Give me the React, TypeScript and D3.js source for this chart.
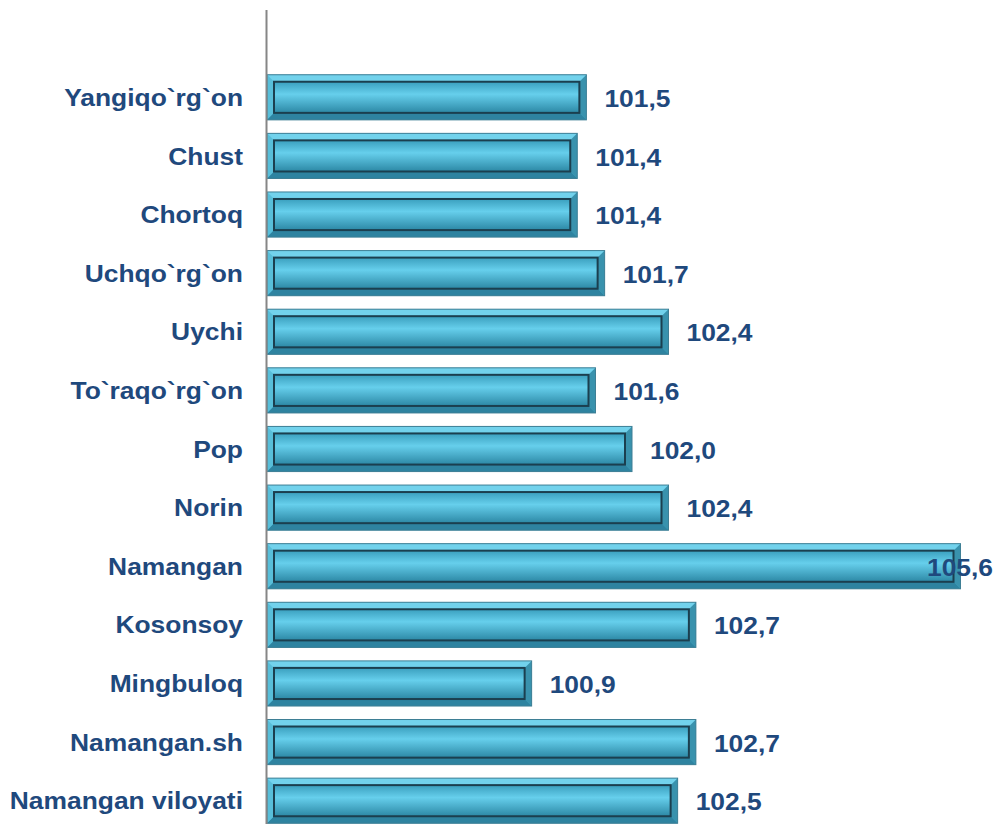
import React, { useRef, useEffect } from "react";
import * as d3 from "d3";

const categories = [
  "Yangiqo`rg`on",
  "Chust",
  "Chortoq",
  "Uchqo`rg`on",
  "Uychi",
  "To`raqo`rg`on",
  "Pop",
  "Norin",
  "Namangan",
  "Kosonsoy",
  "Mingbuloq",
  "Namangan.sh",
  "Namangan viloyati",
];
const values = [101.5, 101.4, 101.4, 101.7, 102.4, 101.6, 102.0, 102.4, 105.6, 102.7, 100.9, 102.7, 102.5];

const BarChart = () => {
  const svgRef = useRef<SVGSVGElement | null>(null);

  useEffect(() => {
    const width = 999;
    const height = 824;
    const font = "'Liberation Sans', Arial, sans-serif";
    const navy = "#1f497d";
    const stretch = 1.1; // reference text is a bit wider than plain Arial

    const svg = d3.select(svgRef.current);
    svg.selectAll("*").remove();

    const x = d3.scaleLinear().domain([98, 106]).range([267, 997]);
    const y = d3.scaleBand().domain(categories).range([68, 830]).paddingInner(0.23).paddingOuter(0.115);

    const defs = svg.append("defs");
    const outer = defs.append("linearGradient").attr("id", "outerG").attr("x1", 0).attr("y1", 0).attr("x2", 0).attr("y2", 1);
    outer.append("stop").attr("offset", "0%").attr("stop-color", "#6fd0ea");
    outer.append("stop").attr("offset", "100%").attr("stop-color", "#3a9fbd");
    const inner = defs.append("linearGradient").attr("id", "innerG").attr("x1", 0).attr("y1", 0).attr("x2", 0).attr("y2", 1);
    inner.append("stop").attr("offset", "0%").attr("stop-color", "#3a9fbe");
    inner.append("stop").attr("offset", "40%").attr("stop-color", "#66cfec");
    inner.append("stop").attr("offset", "100%").attr("stop-color", "#2c88a5");

    const bev = 7;
    const g = svg.selectAll("g.bar").data(values).enter().append("g").attr("class", "bar");

    g.each(function (d, i) {
      const sel = d3.select(this);
      const x0 = x(98);
      const x1 = x(d);
      const y0 = y(categories[i])!;
      const y1 = y0 + y.bandwidth();
      const pts = (arr: number[][]) => arr.map((p) => p.join(",")).join(" ");
      // outer
      sel.append("rect").attr("x", x0).attr("y", y0).attr("width", x1 - x0).attr("height", y1 - y0)
        .attr("fill", "url(#outerG)");
      // bevels
      sel.append("polygon").attr("points", pts([[x0, y0], [x1, y0], [x1 - bev, y0 + bev], [x0 + bev, y0 + bev]])).attr("fill", "#72d2ec");
      sel.append("polygon").attr("points", pts([[x0, y1], [x1, y1], [x1 - bev, y1 - bev], [x0 + bev, y1 - bev]])).attr("fill", "#2e83a0");
      sel.append("polygon").attr("points", pts([[x0, y0], [x0 + bev, y0 + bev], [x0 + bev, y1 - bev], [x0, y1]])).attr("fill", "#58bed9");
      sel.append("polygon").attr("points", pts([[x1, y0], [x1 - bev, y0 + bev], [x1 - bev, y1 - bev], [x1, y1]])).attr("fill", "#3992ad");
      sel.append("rect").attr("x", x0).attr("y", y0).attr("width", x1 - x0).attr("height", y1 - y0)
        .attr("fill", "none").attr("stroke", "#3e7f95").attr("stroke-width", 1);
      // inner
      sel.append("rect").attr("x", x0 + bev).attr("y", y0 + bev).attr("width", x1 - x0 - 2 * bev).attr("height", y1 - y0 - 2 * bev)
        .attr("fill", "url(#innerG)").attr("stroke", "#1b3f4f").attr("stroke-width", 2);
    });

    // axis line
    svg.append("line").attr("x1", 266.5).attr("x2", 266.5).attr("y1", 10).attr("y2", height)
      .attr("stroke", "#868686").attr("stroke-width", 2);

    // category labels
    svg.selectAll("text.cat").data(categories).enter().append("text").attr("class", "cat")
      .attr("transform", (d) => `translate(243,${y(d)! + y.bandwidth() / 2}) scale(${stretch},1)`)
      .attr("dy", "0.36em").attr("text-anchor", "end")
      .attr("font-family", font).attr("font-weight", "bold").attr("font-size", 24)
      .attr("fill", navy).text((d) => d);

    // value labels
    const fmt = (v: number) => v.toFixed(1).replace(".", ",");
    svg.selectAll("text.val").data(values).enter().append("text").attr("class", "val")
      .attr("transform", (d, i) =>
        `translate(${Math.min(x(d) + 18, 993 - 66)},${y(categories[i])! + y.bandwidth() / 2 + 1}) scale(${stretch},1)`)
      .attr("dy", "0.36em")
      .attr("font-family", font).attr("font-weight", "bold").attr("font-size", 24)
      .attr("fill", navy).text((d) => fmt(d));
  }, []);

  return <svg ref={svgRef} width={999} height={824} style={{ position: "absolute", left: 0, top: 0, background: "#fff" }}></svg>;
};

export default function App() {
  return <BarChart />;
}
